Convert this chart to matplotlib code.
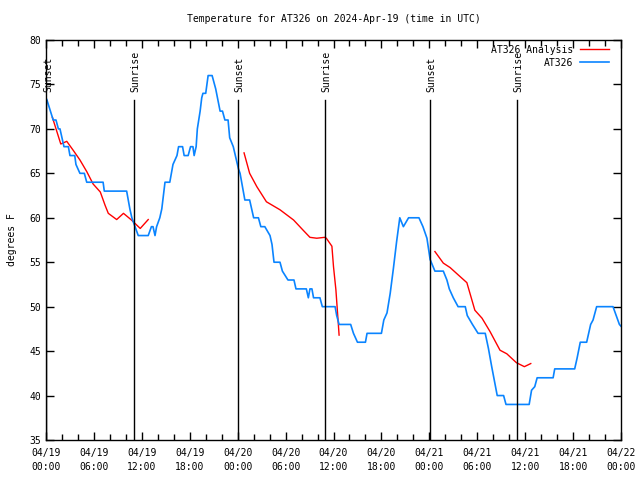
import matplotlib
matplotlib.use("Agg")
import matplotlib.pyplot as plt
import numpy as np

# hours since 2024-04-19 00:00 UTC
obs_hours = [0.1, 0.9, 1.25, 1.55, 1.75, 2.0, 2.25, 2.8, 3.0, 3.6, 3.75, 4.25, 4.8, 5.1,
             7.15, 7.3, 10.1, 10.3, 10.5, 10.75, 11.15, 11.55, 12.8, 13.2, 13.4, 13.65,
             13.85, 14.25, 14.5, 14.9, 15.1, 15.5, 15.7, 15.9, 16.4, 16.6, 17.1, 17.3,
             17.8, 18.1, 18.4, 18.55, 18.8, 18.95, 19.3, 19.5, 19.65, 20.0, 20.3, 20.8,
             21.25, 21.8, 22.1, 22.4, 22.8, 23.0, 23.45, 24.1, 24.3, 24.9, 25.5, 26.0,
             26.6, 26.9, 27.4, 28.05, 28.3, 28.55, 29.3, 29.6, 30.3, 31.05, 31.3, 32.6,
             32.85, 33.05, 33.3, 33.5, 34.3, 34.6, 36.2, 36.4, 36.7, 38.15, 38.5, 39.0,
             40.0, 40.2, 42.0, 42.3, 42.7, 43.1, 43.5, 43.9, 44.3, 44.75, 45.4, 46.7,
             47.2, 47.7, 48.1, 48.7, 49.75, 50.2, 50.5, 51.0, 51.6, 52.5, 52.75, 53.4,
             54.1, 55.0, 55.4, 55.8, 56.2, 56.5, 57.3, 57.6, 60.5, 60.8, 61.2, 61.5,
             63.5, 63.7, 66.2, 66.5, 66.9, 67.7, 68.2, 68.5, 68.95, 71.0, 71.4, 71.8, 72.0]
obs_temps = [73.3, 71, 71, 70, 70, 69, 68, 68, 67, 67, 66, 65, 65, 64,
             64, 63, 63, 62, 61, 60, 59, 58, 58, 59, 59, 58,
             59, 60, 61, 64, 64, 64, 65, 66, 67, 68, 68, 67,
             67, 68, 68, 67, 68, 70, 72, 73.5, 74, 74, 76, 76,
             74.5, 72, 72, 71, 71, 69, 68, 65.5, 65, 62, 62, 60,
             60, 59, 59, 58, 57, 55, 55, 54, 53, 53, 52, 52,
             51, 52, 52, 51, 51, 50, 50, 49, 48, 48, 47, 46,
             46, 47, 47, 48.5, 49.3, 51.5, 54.3, 57.3, 60, 59, 60, 60,
             59, 57.7, 55.3, 54, 54, 53, 52, 51, 50, 50, 49, 48,
             47, 47, 45.3, 43.3, 41.4, 40, 40, 39, 39, 40.6, 41, 42,
             42, 43, 43, 44.2, 46, 46, 48, 48.5, 50, 50, 49, 48, 47.8]

ana1_hours = [0.8, 1.85, 2.6, 3.4, 4.25, 5.1, 5.9, 6.8, 7.4, 7.8, 8.85, 9.7, 10.7, 11.8, 12.8]
ana1_temps = [71.3, 68.3, 68.6, 67.6, 66.5, 65.2, 63.8, 62.9, 61.4, 60.5, 59.8, 60.5, 59.75, 58.8, 59.8]
ana2_hours = [24.8, 25.5, 26.4, 27.6, 29.3, 31.0, 32.2, 33.05, 33.9, 34.9, 35.1, 35.8, 36.0, 36.3, 36.6, 36.7]
ana2_temps = [67.3, 65, 63.5, 61.8, 60.9, 59.75, 58.6, 57.8, 57.7, 57.8, 57.7, 56.8, 54.5, 51.9, 48.1, 46.8]
ana3_hours = [48.7, 49.75, 50.6, 51.4, 52.7, 53.7, 54.6, 55.6, 56.85, 57.7, 58.9, 59.9, 60.7]
ana3_temps = [56.2, 54.9, 54.4, 53.75, 52.7, 49.6, 48.7, 47.2, 45.1, 44.7, 43.7, 43.25, 43.6]

sun_hours = [0.05, 11.02, 24.04, 34.94, 48.08, 58.98]
sun_labels = ["Sunset", "Sunrise", "Sunset", "Sunrise", "Sunset", "Sunrise"]

tick_hours = list(range(0, 73, 6))
tick_labels = ["04/19\n00:00", "04/19\n06:00", "04/19\n12:00", "04/19\n18:00",
               "04/20\n00:00", "04/20\n06:00", "04/20\n12:00", "04/20\n18:00",
               "04/21\n00:00", "04/21\n06:00", "04/21\n12:00", "04/21\n18:00",
               "04/22\n00:00"]

plt.rcParams['font.family'] = ['DejaVu Sans Mono']
fs = 7

fig = plt.figure(figsize=(6.4, 4.8), dpi=100)
ax = fig.add_axes([46 / 640, 40 / 480, 575 / 640, 400 / 480])

red = '#ff0000'
blue = '#0a84ff'
ax.plot(ana1_hours, ana1_temps, color=red, lw=1.0, label='AT326 Analysis')
ax.plot(ana2_hours, ana2_temps, color=red, lw=1.0)
ax.plot(ana3_hours, ana3_temps, color=red, lw=1.0)
ax.plot(obs_hours, obs_temps, color=blue, lw=1.2, label='AT326')

for h, lab in zip(sun_hours, sun_labels):
    ax.plot([h, h], [35, 73.3], color='black', lw=1.0)
    ax.text(h + 0.2, 74.1, lab, rotation=90, ha='center', va='bottom',
            fontsize=fs, clip_on=False)

ax.set_xlim(0, 72)
ax.set_ylim(35, 80)
ax.set_xticks(tick_hours)
ax.set_xticklabels(tick_labels, fontsize=fs, linespacing=1.45)
ax.set_xticks(np.arange(0, 73, 2), minor=True)
ax.set_yticks(np.arange(35, 81, 5))
ax.tick_params(axis='y', labelsize=fs)
ax.tick_params(which='both', direction='in', top=True, right=True, width=1)
ax.tick_params(which='major', length=6)
ax.tick_params(which='minor', length=4)
ax.tick_params(axis='x', pad=6)
for s in ax.spines.values():
    s.set_linewidth(1.0)

ax.set_ylabel('degrees F', fontsize=fs, labelpad=9)
ax.set_title('Temperature for AT326 on 2024-Apr-19 (time in UTC)', fontsize=fs, pad=13)

ax.legend(loc='upper right', bbox_to_anchor=(0.99, 1.003), frameon=False, fontsize=fs,
          markerfirst=False, handlelength=3.0, handletextpad=0.7,
          borderaxespad=0.2, labelspacing=0.3)

fig.savefig('out.png', dpi=100)
